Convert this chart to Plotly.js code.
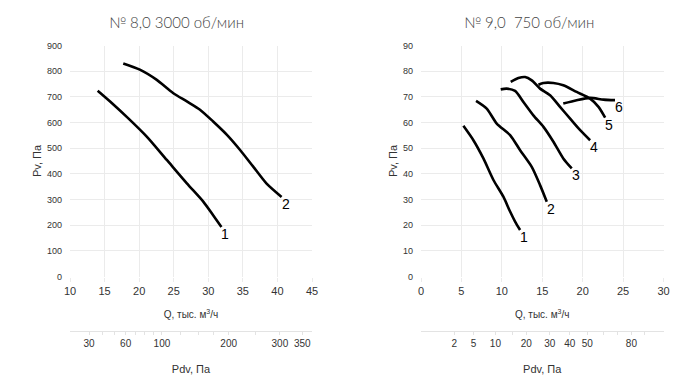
<!DOCTYPE html>
<html>
<head>
<meta charset="utf-8">
<script src="https://cdn.plot.ly/plotly-3.0.1.min.js"></script>
<style>html,body{margin:0;padding:0;background:#fff;}#chart{width:700px;height:382px;}</style>
</head>
<body>
<div id="chart"></div>
<script>
// ---- Left chart: № 8,0 3000 об/мин ----
const leftTitle = "№ 8,0 3000 об/мин";
const leftNames = ["1", "2"];
const leftQ1 = [14.0, 15.8, 18.4, 21.1, 24.0, 26.9, 29.3, 30.7, 31.9];
const leftPv1 = [724, 682, 617, 545, 454, 363, 291, 239, 193];
const leftQ2 = [17.7, 20.1, 22.5, 24.9, 26.9, 28.8, 30.7, 32.7, 34.6, 36.5, 38.4, 40.6];
const leftPv2 = [830, 806, 767, 715, 682, 650, 604, 552, 493, 428, 363, 310];
const leftPdvLabels = [30, 60, 100, 200, 300, 350];
const leftPdvMinor = [40, 50, 70, 80, 90, 125, 150, 175, 250];
const leftPdvCoef = 2.33; // Q = coef * sqrt(Pdv)

// ---- Right chart: № 9,0 750 об/мин ----
const rightTitle = "№ 9,0  750 об/мин";
const rightNames = ["1", "2", "3", "4", "5", "6"];
const rightQ1 = [5.24, 6.48, 7.72, 8.96, 10.19, 11.02, 11.64, 12.26];
const rightPv1 = [58.7, 53.1, 46.0, 37.6, 31.1, 25.3, 21.4, 18.1];
const rightQ2 = [6.81, 8.13, 9.37, 11.02, 12.26, 13.7, 14.73, 15.56];
const rightPv2 = [68.4, 65.4, 59.6, 55.1, 49.2, 42.7, 35.6, 29.1];
const rightQ3 = [9.86, 10.6, 11.64, 12.67, 13.9, 15.15, 16.38, 17.6, 18.65];
const rightPv3 = [72.9, 73.2, 72.3, 68.0, 62.8, 58.3, 52.5, 46.0, 42.1];
const rightQ4 = [11.1, 12.05, 12.88, 13.7, 14.73, 15.97, 17.2, 18.45, 19.69, 20.92];
const rightPv4 = [75.8, 77.3, 77.7, 76.4, 73.2, 70.6, 66.1, 61.5, 57.0, 53.1];
const rightQ5 = [14.53, 15.15, 16.38, 17.6, 19.26, 20.92, 21.96, 22.78];
const rightPv5 = [74.7, 75.4, 75.4, 74.5, 71.9, 69.3, 66.1, 61.9];
const rightQ6 = [17.6, 19.26, 20.92, 22.58, 24.0];
const rightPv6 = [67.4, 68.7, 69.6, 68.9, 68.7];
const rightPdvLabels = [2, 5, 10, 20, 30, 40, 50, 80];
const rightPdvMinor = [15, 60, 70, 90];
const rightPdvCoef = 2.91;

const tickFont = {family: "Liberation Sans, Arial, sans-serif", color: "#333"};
const gridColor = "#ebebeb";

function curve(x, y, xa, ya) {
  return {x: x, y: y, xaxis: xa, yaxis: ya, type: "scatter", mode: "lines",
    line: {color: "#000", width: 2.6, shape: "spline", smoothing: 0.7},
    hoverinfo: "skip", showlegend: false};
}
function ghost(x, y, xa, ya) {
  return {x: x, y: y, xaxis: xa, yaxis: ya, type: "scatter", mode: "lines",
    line: {width: 0}, opacity: 0, hoverinfo: "skip", showlegend: false};
}
const toQ = (coef) => (v) => coef * Math.sqrt(v);

const leftCurves = [[leftQ1, leftPv1], [leftQ2, leftPv2]];
const rightCurves = [[rightQ1, rightPv1], [rightQ2, rightPv2], [rightQ3, rightPv3],
  [rightQ4, rightPv4], [rightQ5, rightPv5], [rightQ6, rightPv6]];

const traces = [];
leftCurves.forEach(c => traces.push(curve(c[0], c[1], "x", "y")));
rightCurves.forEach(c => traces.push(curve(c[0], c[1], "x2", "y2")));
traces.push(ghost(leftQ1, leftPv1, "x3", "y"));
traces.push(ghost(rightQ1, rightPv1, "x4", "y2"));

const annotations = [];
function endLabels(curves, names, xa, ya) {
  curves.forEach((c, i) => {
    const n = c[0].length;
    annotations.push({x: c[0][n - 1], y: c[1][n - 1], xref: xa, yref: ya, text: names[i],
      showarrow: false, xanchor: "left", yanchor: "top", xshift: -2, yshift: 3,
      font: {family: "Liberation Sans, Arial, sans-serif", size: 14, color: "#000"}});
  });
}
endLabels(leftCurves, leftNames, "x", "y");
endLabels(rightCurves, rightNames, "x2", "y2");
const titleFont = {family: "Lato, 'Open Sans', sans-serif", size: 15, color: "#444", weight: 300};
annotations.push({x: 176 / 700, y: 1 - 22 / 382, xref: "paper", yref: "paper", text: leftTitle,
  showarrow: false, xanchor: "center", yanchor: "middle", font: titleFont});
annotations.push({x: 529 / 700, y: 1 - 22 / 382, xref: "paper", yref: "paper", text: rightTitle,
  showarrow: false, xanchor: "center", yanchor: "middle", font: titleFont});

const yDom = [1 - 276.5 / 382, 1 - 45.5 / 382];
const lDom = [70 / 700, 312 / 700];
const rDom = [421 / 700, 663.5 / 700];
const pdvPos = 1 - 331 / 382;

function qAxis(dom, range, dtick, anchor) {
  return {domain: dom, range: range, dtick: dtick, anchor: anchor, showgrid: true, gridcolor: gridColor,
    zeroline: false, showline: false, ticks: "outside", ticklen: 4, tickcolor: gridColor,
    tickfont: Object.assign({size: 11}, tickFont),
    title: {text: "Q, тыс. м<sup>3</sup>/ч", standoff: 15, font: Object.assign({size: 10}, tickFont)},
    fixedrange: true};
}
function pvAxis(range, dtick, anchor) {
  return {domain: yDom, range: range, dtick: dtick, anchor: anchor, showgrid: true, gridcolor: gridColor,
    zeroline: false, showline: false, ticks: "", ticklabelstandoff: 7,
    tickfont: Object.assign({size: 9}, tickFont),
    title: {text: "Pv, Па", standoff: 3, font: Object.assign({size: 11}, tickFont)},
    fixedrange: true};
}
function pdvAxis(dom, range, labels, minor, coef, over) {
  const f = toQ(coef);
  return {domain: dom, range: range, overlaying: over, anchor: "free", position: pdvPos, side: "bottom",
    tickmode: "array", tickvals: labels.map(f), ticktext: labels.map(String), showgrid: false, zeroline: false,
    showline: true, linecolor: "#e3e3e3", linewidth: 1, ticks: "outside", ticklen: 3, tickcolor: "#e3e3e3",
    minor: {tickmode: "array", tickvals: minor.map(f), ticks: "outside", ticklen: 3, tickcolor: "#e3e3e3", showgrid: false},
    tickfont: Object.assign({size: 10}, tickFont),
    title: {text: "Pdv, Па", standoff: 17, font: Object.assign({size: 11}, tickFont)},
    fixedrange: true};
}

const layout = {
  width: 700, height: 382, margin: {l: 0, r: 0, t: 0, b: 0},
  paper_bgcolor: "#fff", plot_bgcolor: "#fff", showlegend: false,
  xaxis: qAxis(lDom, [10, 45], 5, "y"),
  yaxis: pvAxis([0, 900], 100, "x"),
  xaxis2: qAxis(rDom, [0, 30], 5, "y2"),
  yaxis2: pvAxis([0, 90], 10, "x2"),
  xaxis3: pdvAxis(lDom, [10, 45], leftPdvLabels, leftPdvMinor, leftPdvCoef, "x"),
  xaxis4: pdvAxis(rDom, [0, 30], rightPdvLabels, rightPdvMinor, rightPdvCoef, "x2"),
  annotations: annotations
};

Plotly.newPlot("chart", traces, layout, {staticPlot: true, displayModeBar: false});
</script>
</body>
</html>
